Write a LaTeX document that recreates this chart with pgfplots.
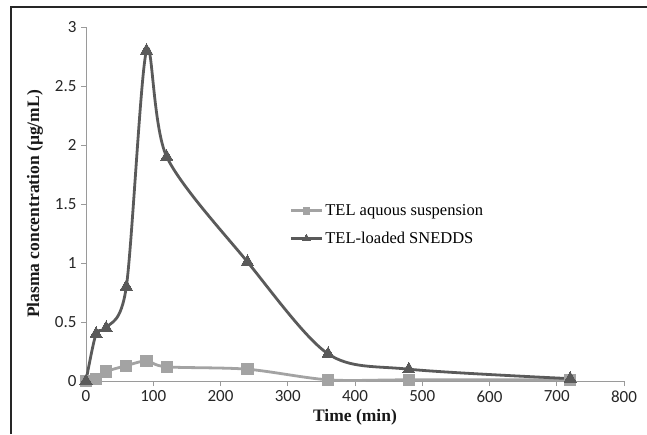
\documentclass[border=0pt]{standalone}
\usepackage{pgfplots}
\pgfplotsset{compat=1.18}
\usepackage{fontspec}
\setmainfont{Liberation Serif}
\newfontfamily\tickfont{Carlito}
\definecolor{darkser}{HTML}{5A5A5A}
\definecolor{lightser}{HTML}{A3A3A3}
\definecolor{axgray}{HTML}{9A9A9A}
\begin{document}
\begin{tikzpicture}
\path[use as bounding box] (0,0) rectangle (647pt,434pt);
\draw[line width=1.6pt, color=black!85] (11pt,0pt) -- (11pt,427pt) -- (647pt,427pt);
\begin{axis}[
  at={(86pt,53pt)}, anchor=south west,
  scale only axis, width=538pt, height=354pt,
  xmin=0, xmax=800, ymin=0, ymax=3,
  axis x line=bottom, axis y line=left,
  axis line style={-, axgray, line width=0.9pt},
  xtick={0,100,...,800}, ytick={0,0.5,...,3},
  tick align=outside, major tick length=5pt,
  tick style={axgray, line width=0.9pt},
  /pgf/number format/assume math mode=true,
  /pgf/number format/fixed,
  ticklabel style={font=\tickfont\fontsize{17}{20}\selectfont, color=black!85},
  xticklabel style={yshift=-1pt},
  yticklabel style={xshift=-1pt},
  xlabel={\textbf{Time (min)}},
  ylabel={\textbf{Plasma concentration (µg/mL)}},
  label style={font=\fontsize{17.5}{20}\selectfont, color=black!90},
  xlabel style={at={(axis description cs:0.5,-0.102)}, anchor=center},
  ylabel style={at={(axis description cs:-0.0948,0.5)}, anchor=center},
  legend style={draw=none, fill=none, at={(axis description cs:0.378,0.505)}, anchor=north west,
    font=\fontsize{16.5}{19}\selectfont, row sep=11pt, inner sep=0pt, cells={anchor=west}},
  legend cell align=left,
  legend image code/.code={
    \draw[mark repeat=2, mark phase=2, every mark/.append style={scale=0.6}] plot coordinates {(0pt,0pt) (15.5pt,0pt) (31pt,0pt)};
  },
  clip=false,
]
\addplot[lightser, line width=2.8pt, smooth, tension=0.5, mark=square*, mark size=5.6pt,
  mark options={line width=0pt, fill=lightser, draw=lightser}]
  coordinates {(0,0) (15,0.02) (30,0.08) (60,0.13) (90,0.17) (120,0.12) (240,0.10) (360,0.01) (480,0.01) (720,0.01)};
\addlegendentry{TEL aquous suspension}
\addplot[darkser, line width=2.8pt, smooth, tension=0.5, mark=triangle*, mark size=7pt,
  mark options={line width=0pt, fill=darkser, draw=darkser}]
  coordinates {(0,0) (15,0.40) (30,0.45) (60,0.80) (90,2.80) (120,1.90) (240,1.01) (360,0.23) (480,0.10) (720,0.02)};
\addlegendentry{TEL-loaded SNEDDS}
\end{axis}
\end{tikzpicture}
\end{document}
